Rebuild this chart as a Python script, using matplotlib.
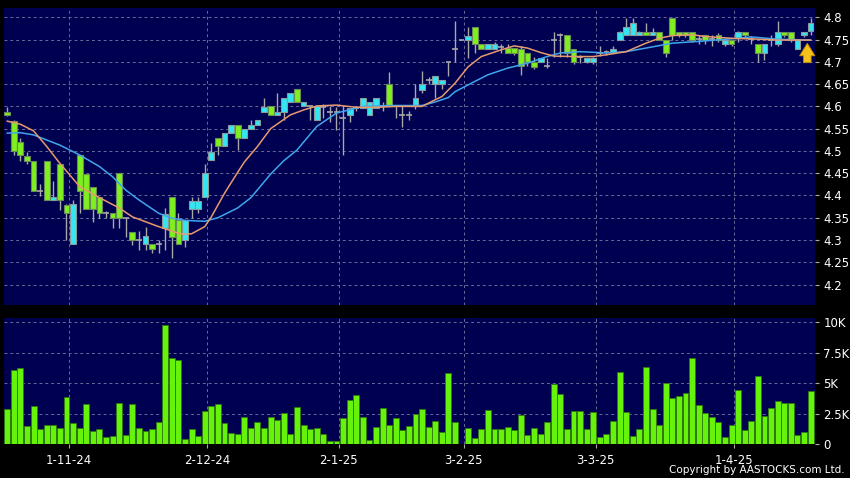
import matplotlib.pyplot as plt
from matplotlib.ticker import FuncFormatter
import numpy as np

# daily OHLC
opens = [4.588, 4.568, 4.519, 4.489, 4.478, 4.410, 4.478, 4.390, 4.471, 4.379,
         4.291, 4.491, 4.448, 4.418, 4.397, 4.360, 4.360, 4.450, 4.349, 4.319,
         4.300, 4.291, 4.291, 4.291, 4.328, 4.397, 4.346, 4.300, 4.369, 4.369,
         4.397, 4.480, 4.528, 4.510, 4.540, 4.559, 4.529, 4.549, 4.559, 4.588,
         4.600, 4.581, 4.588, 4.611, 4.639, 4.600, 4.600, 4.570, 4.598, 4.588,
         4.588, 4.575, 4.581, 4.597, 4.597, 4.581, 4.597, 4.600, 4.650, 4.600,
         4.581, 4.581, 4.600, 4.637, 4.660, 4.650, 4.650, 4.699, 4.729, 4.749,
         4.749, 4.779, 4.740, 4.729, 4.729, 4.733, 4.731, 4.731, 4.729, 4.720,
         4.699, 4.699, 4.691, 4.749, 4.761, 4.761, 4.729, 4.710, 4.699, 4.699,
         4.720, 4.722, 4.720, 4.749, 4.761, 4.761, 4.761, 4.768, 4.761, 4.768,
         4.749, 4.798, 4.768, 4.768, 4.768, 4.751, 4.761, 4.751, 4.761, 4.740,
         4.749, 4.753, 4.768, 4.751, 4.740, 4.720, 4.750, 4.740, 4.768, 4.768,
         4.729, 4.761, 4.770]
closes = [4.580, 4.500, 4.491, 4.478, 4.410, 4.410, 4.390, 4.397, 4.390, 4.360,
          4.380, 4.410, 4.370, 4.370, 4.360, 4.360, 4.349, 4.349, 4.349, 4.300,
          4.300, 4.309, 4.279, 4.291, 4.358, 4.307, 4.291, 4.346, 4.388, 4.388,
          4.450, 4.498, 4.510, 4.540, 4.559, 4.529, 4.549, 4.559, 4.570, 4.598,
          4.581, 4.588, 4.618, 4.630, 4.611, 4.609, 4.600, 4.600, 4.598, 4.588,
          4.588, 4.575, 4.597, 4.597, 4.618, 4.609, 4.618, 4.600, 4.601, 4.600,
          4.581, 4.581, 4.618, 4.650, 4.660, 4.669, 4.660, 4.699, 4.729, 4.749,
          4.759, 4.740, 4.729, 4.740, 4.740, 4.733, 4.720, 4.720, 4.690, 4.699,
          4.689, 4.708, 4.691, 4.749, 4.761, 4.721, 4.699, 4.710, 4.708, 4.708,
          4.720, 4.722, 4.729, 4.768, 4.779, 4.788, 4.768, 4.761, 4.768, 4.749,
          4.720, 4.761, 4.761, 4.761, 4.749, 4.751, 4.749, 4.751, 4.749, 4.749,
          4.740, 4.768, 4.761, 4.751, 4.720, 4.740, 4.750, 4.768, 4.761, 4.749,
          4.749, 4.768, 4.788]
highs = [4.598, 4.570, 4.529, 4.498, 4.478, 4.425, 4.478, 4.432, 4.471, 4.380,
         4.390, 4.491, 4.448, 4.418, 4.397, 4.365, 4.360, 4.450, 4.349, 4.319,
         4.320, 4.330, 4.291, 4.300, 4.371, 4.397, 4.360, 4.346, 4.397, 4.397,
         4.471, 4.517, 4.528, 4.540, 4.559, 4.559, 4.549, 4.570, 4.570, 4.618,
         4.600, 4.630, 4.618, 4.630, 4.639, 4.609, 4.600, 4.600, 4.605, 4.600,
         4.598, 4.600, 4.597, 4.600, 4.618, 4.609, 4.618, 4.609, 4.678, 4.600,
         4.600, 4.590, 4.650, 4.680, 4.665, 4.669, 4.660, 4.699, 4.791, 4.749,
         4.779, 4.779, 4.740, 4.740, 4.745, 4.740, 4.740, 4.731, 4.735, 4.720,
         4.710, 4.708, 4.708, 4.768, 4.765, 4.761, 4.729, 4.715, 4.708, 4.710,
         4.735, 4.727, 4.735, 4.770, 4.798, 4.798, 4.770, 4.788, 4.775, 4.768,
         4.749, 4.798, 4.768, 4.768, 4.768, 4.761, 4.761, 4.761, 4.765, 4.749,
         4.749, 4.770, 4.768, 4.758, 4.740, 4.740, 4.761, 4.791, 4.768, 4.768,
         4.749, 4.768, 4.798]
lows = [4.578, 4.491, 4.478, 4.471, 4.410, 4.398, 4.390, 4.390, 4.367, 4.300,
        4.291, 4.361, 4.370, 4.341, 4.349, 4.349, 4.327, 4.327, 4.307, 4.289,
        4.278, 4.278, 4.270, 4.270, 4.278, 4.259, 4.291, 4.285, 4.349, 4.360,
        4.397, 4.480, 4.491, 4.510, 4.540, 4.502, 4.529, 4.549, 4.559, 4.588,
        4.581, 4.581, 4.570, 4.611, 4.611, 4.600, 4.570, 4.570, 4.575, 4.565,
        4.547, 4.491, 4.565, 4.590, 4.597, 4.581, 4.597, 4.590, 4.600, 4.573,
        4.553, 4.570, 4.595, 4.630, 4.650, 4.618, 4.640, 4.669, 4.700, 4.749,
        4.708, 4.720, 4.729, 4.729, 4.729, 4.720, 4.720, 4.715, 4.671, 4.690,
        4.685, 4.699, 4.687, 4.712, 4.712, 4.712, 4.695, 4.697, 4.697, 4.695,
        4.713, 4.716, 4.720, 4.749, 4.761, 4.761, 4.761, 4.761, 4.761, 4.749,
        4.712, 4.749, 4.755, 4.755, 4.745, 4.740, 4.740, 4.735, 4.745, 4.735,
        4.735, 4.745, 4.755, 4.740, 4.700, 4.705, 4.735, 4.735, 4.755, 4.745,
        4.729, 4.755, 4.761]

# volume in thousands of shares
volumes = [2.84, 6.1, 6.25, 1.5, 3.1, 1.2, 1.6, 1.6, 1.3, 3.85,
           1.7, 1.35, 3.3, 1.1, 1.25, 0.55, 0.63, 3.4, 0.77, 3.25,
           1.3, 1.05, 1.2, 1.8, 9.8, 7.1, 6.9, 0.45, 1.2, 0.66,
           2.7, 3.15, 3.3, 1.7, 0.9, 0.83, 2.25, 1.35, 1.8, 1.3,
           2.2, 2.0, 2.55, 0.85, 3.0, 1.55, 1.2, 1.3, 0.85, 0.25,
           0.22, 2.1, 3.65, 4.0, 2.2, 0.36, 1.4, 2.95, 1.57, 2.1,
           1.13, 1.5, 2.45, 2.85, 1.38, 1.9, 1.0, 5.8, 1.8, 0.0,
           1.3, 0.47, 1.27, 2.8, 1.2, 1.27, 1.43, 1.16, 2.42, 0.77,
           1.3, 0.83, 1.8, 4.93, 4.13, 1.2, 2.73, 2.73, 1.27, 2.6,
           0.55, 0.8, 1.93, 5.95, 2.62, 0.69, 1.24, 6.3, 2.9, 1.54,
           5.04, 3.8, 3.94, 4.21, 7.1, 3.2, 2.56, 2.23, 1.8, 0.55,
           1.6, 4.46, 1.18, 1.9, 5.56, 2.26, 2.98, 3.53, 3.39, 3.39,
           0.72, 1.02, 4.38]

# moving averages, sampled along the lines (bar index, price)
ma_short_idx = [0, 2, 4, 6, 8, 11, 14, 17, 19, 23, 26, 27, 28, 30, 31, 33, 35, 36,
                38, 40, 43, 45, 47, 50, 53, 56, 59, 63, 65, 66, 68, 70, 72, 75, 77,
                79, 81, 83, 86, 89, 91, 94, 97, 99, 101, 104, 106, 110, 114, 117, 122]
ma_short = [4.567, 4.560, 4.545, 4.510, 4.472, 4.420, 4.395, 4.372, 4.352, 4.330,
            4.315, 4.313, 4.314, 4.330, 4.352, 4.405, 4.452, 4.475, 4.510, 4.550,
            4.581, 4.592, 4.601, 4.603, 4.598, 4.598, 4.600, 4.600, 4.615, 4.622,
            4.652, 4.689, 4.712, 4.727, 4.736, 4.731, 4.721, 4.713, 4.712, 4.712,
            4.716, 4.723, 4.742, 4.753, 4.759, 4.761, 4.757, 4.753, 4.751, 4.749,
            4.749]
ma_long_idx = [0, 2, 4, 8, 11, 14, 16, 18, 20, 22, 23, 25, 27, 30, 32, 35, 37, 40,
               42, 44, 47, 50, 54, 58, 63, 65, 67, 68, 71, 73, 76, 79, 82, 84, 87,
               91, 94, 97, 101, 105, 111, 113, 117, 122]
ma_long = [4.540, 4.541, 4.536, 4.513, 4.491, 4.465, 4.442, 4.412, 4.390, 4.370,
           4.360, 4.349, 4.344, 4.342, 4.350, 4.372, 4.395, 4.448, 4.478, 4.502,
           4.555, 4.585, 4.600, 4.602, 4.602, 4.610, 4.620, 4.633, 4.656, 4.671,
           4.686, 4.697, 4.712, 4.720, 4.723, 4.720, 4.723, 4.731, 4.742, 4.746,
           4.753, 4.756, 4.751, 4.749]

date_idx = [9, 30, 50, 69, 89, 110]
date_labels = ['1-11-24', '2-12-24', '2-1-25', '3-2-25', '3-3-25', '1-4-25']

bg = '#000050'
grid_c = '#6a6a9a'
up_c = '#33e6f2'
down_c = '#7fef1f'
wick_c = '#a8a8a8'

fig = plt.figure(figsize=(8.5, 4.78), dpi=100, facecolor='black')
ax = fig.add_axes([4 / 850, 1 - 305 / 478, 811 / 850, 297 / 478])
axv = fig.add_axes([4 / 850, 1 - 444 / 478, 811 / 850, 126 / 478])

x = np.arange(len(opens))
o = np.array(opens)
c = np.array(closes)

for a in (ax, axv):
    a.set_facecolor(bg)
    for s in a.spines.values():
        s.set_visible(False)
    a.set_xlim(-0.49, 122.67)
    a.yaxis.tick_right()
    a.tick_params(axis='y', colors=wick_c, labelcolor='white', length=3,
                  labelsize=8.5, pad=3)
    a.set_xticks([d + 0.35 for d in date_idx])
    a.grid(True, color=grid_c, linestyle=(0, (3, 3)), linewidth=0.7)
    a.set_axisbelow(True)

# candles
ax.vlines(x, lows, highs, color=wick_c, linewidth=1, zorder=2)
up = c > o
down = c < o
flat = c == o
ax.bar(x[up], (c - o)[up], bottom=o[up], width=0.88, color=up_c,
       edgecolor='#8a9a9a', linewidth=0.8, zorder=3)
ax.bar(x[down], (o - c)[down], bottom=c[down], width=0.88, color=down_c,
       edgecolor='#6a8a5a', linewidth=0.8, zorder=3)
ax.hlines(c[flat], x[flat] - 0.44, x[flat] + 0.44, color=wick_c, linewidth=1.2, zorder=3)

ax.plot(ma_long_idx, ma_long, color='#3fa6ee', linewidth=1.1, zorder=4)
ax.plot(ma_short_idx, ma_short, color='#e79a6e', linewidth=1.1, zorder=4)

ax.annotate('', xy=(121.5, 4.748), xytext=(121.5, 4.692),
            arrowprops=dict(arrowstyle='simple,head_width=1.1,head_length=0.9,tail_width=0.55',
                            facecolor='#f5c21b', edgecolor='#c08a00', linewidth=0.6),
            zorder=5)

ax.set_ylim(4.154, 4.821)
ax.set_yticks(np.arange(4.2, 4.81, 0.05))
ax.yaxis.set_major_formatter(FuncFormatter(lambda v, p: f'{v:.2f}'.rstrip('0').rstrip('.')))
ax.tick_params(axis='x', length=0, labelbottom=False)

axv.bar(x, volumes, width=0.9, color='#66f20a', edgecolor='#2f7a10', linewidth=0.6, zorder=3)
axv.set_ylim(0, 10.35)
axv.set_yticks([0, 2.5, 5, 7.5, 10])
axv.set_yticklabels(['0', '2.5K', '5K', '7.5K', '10K'])
axv.set_xticklabels(date_labels)
axv.tick_params(axis='x', colors=wick_c, labelcolor='white', length=3, labelsize=8.5, pad=4)

fig.text(0.994, 0.006, 'Copyright by AASTOCKS.com Ltd.', color='white', fontsize=7.5,
         ha='right', va='bottom')

fig.savefig('out.png', dpi=100, facecolor='black')
